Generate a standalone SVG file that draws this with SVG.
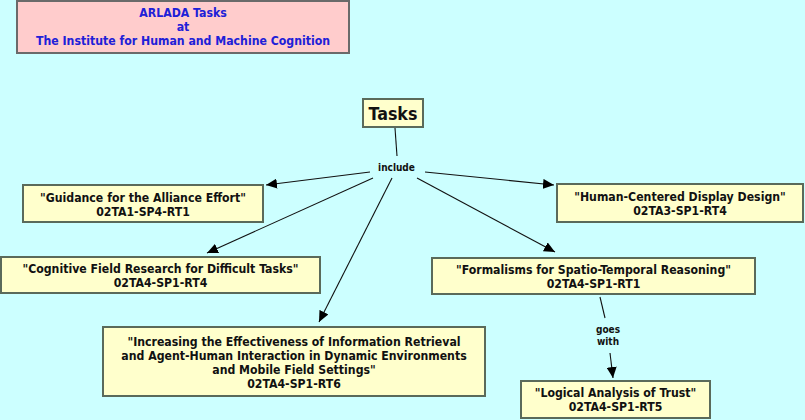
<svg xmlns="http://www.w3.org/2000/svg" width="805" height="420" viewBox="0 0 805 420">
<defs>
<style>
.bg{fill:#ccffff}
.node{fill:#ffffcc;stroke:#5a6a5a;stroke-width:2}
.title{fill:#ffcccc;stroke:#6a6a6a;stroke-width:2}
.t{font-family:"DejaVu Sans Condensed","DejaVu Sans",sans-serif;font-weight:bold;font-size:12.2px;fill:#111;text-anchor:middle}
.tt{font-family:"DejaVu Sans Condensed","DejaVu Sans",sans-serif;font-weight:bold;font-size:12.2px;fill:#2020d8;text-anchor:middle}
.big{font-family:"DejaVu Sans Condensed","DejaVu Sans",sans-serif;font-weight:bold;font-size:17.7px;fill:#111;text-anchor:middle}
.lbl{font-family:"DejaVu Sans Condensed","DejaVu Sans",sans-serif;font-weight:bold;font-size:10px;fill:#111;text-anchor:middle}
.edge{stroke:#111;stroke-width:1.1;fill:none}
</style>
<marker id="arr" viewBox="0 0 11 10" refX="11" refY="5" markerWidth="11" markerHeight="10" markerUnits="userSpaceOnUse" orient="auto">
<path d="M0,0 L11,5 L0,10 Z" fill="#000"/>
</marker>
</defs>
<rect class="bg" x="0" y="0" width="805" height="420"/>

<g id="title">
<rect class="title" x="17" y="1" width="332" height="52"/>
<text class="tt" x="183" y="16.5">ARLADA Tasks</text>
<text class="tt" x="183" y="30.5">at</text>
<text class="tt" x="183" y="44.5">The Institute for Human and Machine Cognition</text>
</g>

<g id="connectors">
<line class="edge" x1="395" y1="128" x2="397" y2="156"/>
<line class="edge" x1="370" y1="172" x2="266" y2="185" marker-end="url(#arr)"/>
<line class="edge" x1="425" y1="172" x2="554" y2="185" marker-end="url(#arr)"/>
<line class="edge" x1="373" y1="178" x2="207" y2="253" marker-end="url(#arr)"/>
<line class="edge" x1="392" y1="178" x2="319" y2="322" marker-end="url(#arr)"/>
<line class="edge" x1="417" y1="178" x2="555" y2="252" marker-end="url(#arr)"/>
<line class="edge" x1="600" y1="297" x2="605" y2="318"/>
<line class="edge" x1="610" y1="353" x2="613" y2="378" marker-end="url(#arr)"/>
<text class="lbl" x="396.5" y="170.5">include</text>
<text class="lbl" x="608" y="332.5">goes</text>
<text class="lbl" x="608" y="344.5">with</text>
</g>

<g id="tasks">
<rect class="node" x="363" y="99" width="60" height="28"/>
<text class="big" x="393" y="119.5">Tasks</text>
</g>

<g id="guidance">
<rect class="node" x="23" y="185" width="240" height="37"/>
<text class="t" x="143" y="201.5">"Guidance for the Alliance Effort"</text>
<text class="t" x="143" y="215.5">02TA1-SP4-RT1</text>
</g>

<g id="human">
<rect class="node" x="557" y="184" width="246" height="38"/>
<text class="t" x="680" y="200.5">"Human-Centered Display Design"</text>
<text class="t" x="680" y="215">02TA3-SP1-RT4</text>
</g>

<g id="cognitive">
<rect class="node" x="1" y="257" width="319" height="36"/>
<text class="t" x="160.5" y="272.5">"Cognitive Field Research for Difficult Tasks"</text>
<text class="t" x="160.5" y="287">02TA4-SP1-RT4</text>
</g>

<g id="formalisms">
<rect class="node" x="432" y="258" width="323" height="36"/>
<text class="t" x="593.5" y="273.5">"Formalisms for Spatio-Temporal Reasoning"</text>
<text class="t" x="593.5" y="287.5">02TA4-SP1-RT1</text>
</g>

<g id="increasing">
<rect class="node" x="103" y="327" width="382" height="69"/>
<text class="t" x="294" y="345.5">"Increasing the Effectiveness of Information Retrieval</text>
<text class="t" x="294" y="359.5">and Agent-Human Interaction in Dynamic Environments</text>
<text class="t" x="294" y="373.5">and Mobile Field Settings"</text>
<text class="t" x="294" y="387.5">02TA4-SP1-RT6</text>
</g>

<g id="logical">
<rect class="node" x="521" y="381" width="189" height="37"/>
<text class="t" x="615.5" y="396.5">"Logical Analysis of Trust"</text>
<text class="t" x="615.5" y="410.5">02TA4-SP1-RT5</text>
</g>
</svg>
